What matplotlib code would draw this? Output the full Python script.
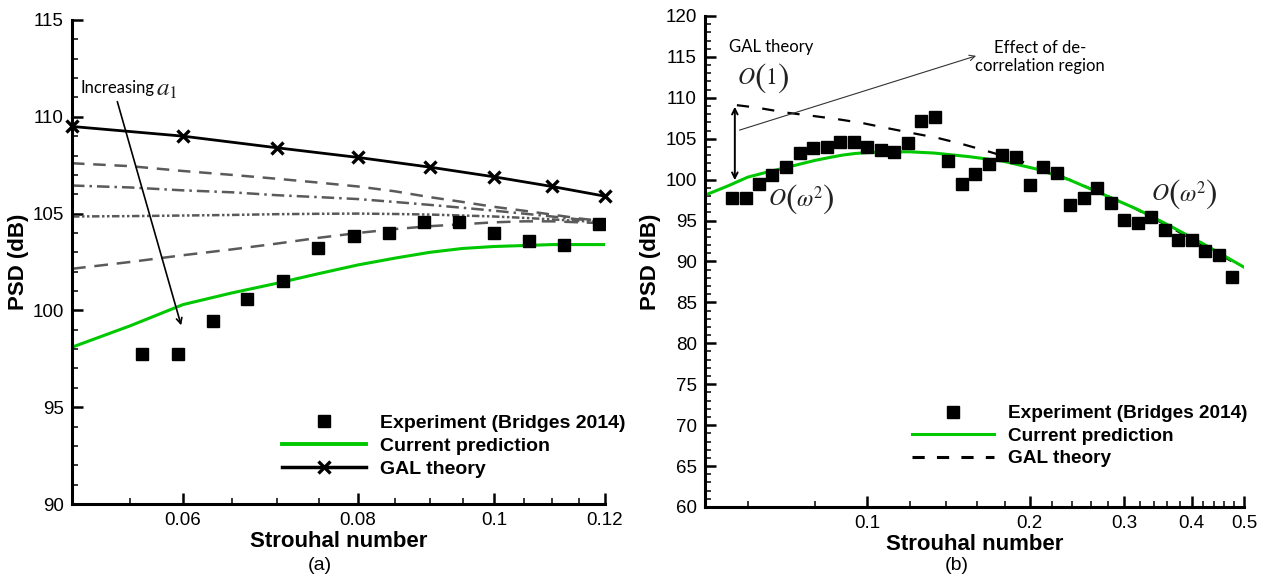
import numpy as np
import matplotlib.pyplot as plt
from matplotlib.ticker import FixedLocator, FixedFormatter, NullFormatter, MultipleLocator
from matplotlib.lines import Line2D

plt.rcParams['font.family'] = ['Liberation Sans', 'DejaVu Sans']
plt.rcParams['mathtext.fontset'] = 'stix'

# Experiment (Bridges 2014), 1/12-octave bands
st_exp = [0.0561, 0.0595, 0.0630, 0.0667, 0.0707, 0.0749, 0.0794, 0.0841, 0.0891, 0.0944,
          0.1000, 0.1059, 0.1122, 0.1189, 0.1260, 0.1335, 0.1414, 0.1498, 0.1587, 0.1682,
          0.1782, 0.1888, 0.2000, 0.2119, 0.2245, 0.2378, 0.2520, 0.2670, 0.2828, 0.2997,
          0.3175, 0.3364, 0.3564, 0.3775, 0.4000, 0.4238, 0.4490, 0.4757]
psd_exp = [97.75, 97.75, 99.45, 100.6, 101.5, 103.2, 103.85, 104.0, 104.55, 104.55,
           104.0, 103.6, 103.4, 104.45, 107.15, 107.65, 102.3, 99.45, 100.7, 101.9,
           103.0, 102.8, 99.35, 101.55, 100.8, 96.9, 97.75, 99.0, 97.15, 95.05,
           94.7, 95.45, 93.85, 92.65, 92.65, 91.3, 90.8, 88.1]

# Current prediction
st_pred = [0.050, 0.055, 0.060, 0.065, 0.070, 0.075, 0.080, 0.085, 0.090, 0.095, 0.100,
           0.105, 0.110, 0.115, 0.120, 0.133, 0.155, 0.178, 0.206, 0.2375, 0.274, 0.317,
           0.364, 0.419, 0.500]
psd_pred = [98.1, 99.2, 100.3, 100.9, 101.4, 101.9, 102.35, 102.7, 103.0, 103.2, 103.3,
            103.35, 103.4, 103.4, 103.4, 103.25, 102.8, 102.28, 101.3, 99.96, 98.2, 96.38,
            94.37, 92.2, 89.3]

# GAL theory, panel (a) with markers
st_gal_a = [0.05, 0.06, 0.07, 0.08, 0.09, 0.10, 0.11, 0.12]
psd_gal_a = [109.5, 109.0, 108.4, 107.9, 107.4, 106.9, 106.4, 105.9]

# GAL theory, panel (b)
st_gal_b = [0.0573, 0.0624, 0.0706, 0.079, 0.0879, 0.0982, 0.1088, 0.121, 0.135, 0.150,
            0.1667, 0.2063, 0.2483, 0.3072, 0.3752, 0.4967]
psd_gal_b = [109.1, 108.8, 108.2, 107.8, 107.4, 106.9, 106.3, 105.7, 105.1, 104.35,
             103.5, 101.65, 99.45, 96.8, 93.75, 89.3]

# Increasing a1 curves, panel (a)
st_a1 = [0.050, 0.055, 0.060, 0.065, 0.070, 0.075, 0.080, 0.085, 0.090, 0.095,
         0.100, 0.105, 0.110, 0.115, 0.120]
psd_a1_1 = [107.6, 107.45, 107.2, 107.0, 106.8, 106.6, 106.4, 106.15, 105.85, 105.6,
            105.35, 105.15, 104.95, 104.75, 104.6]
psd_a1_2 = [106.45, 106.35, 106.2, 106.1, 105.95, 105.85, 105.75, 105.6, 105.45, 105.3,
            105.15, 105.0, 104.85, 104.7, 104.6]
psd_a1_3 = [104.85, 104.87, 104.9, 104.93, 104.97, 104.99, 105.0, 104.98, 104.95, 104.9,
            104.85, 104.78, 104.7, 104.62, 104.55]
psd_a1_4 = [102.15, 102.5, 102.85, 103.15, 103.45, 103.75, 104.0, 104.2, 104.35, 104.45,
            104.55, 104.6, 104.6, 104.55, 104.5]

# ticks
xmajor_a = [0.06, 0.08, 0.1, 0.12]
xlabels_a = ['0.06', '0.08', '0.1', '0.12']
xminor_a = [0.055, 0.065, 0.07, 0.075, 0.085, 0.09, 0.095, 0.105, 0.11, 0.115]
xmajor_b = [0.1, 0.2, 0.3, 0.4, 0.5]
xlabels_b = ['0.1', '0.2', '0.3', '0.4', '0.5']
xminor_b = [0.06, 0.08, 0.12, 0.14, 0.16, 0.18, 0.22, 0.24, 0.26, 0.28,
            0.32, 0.34, 0.36, 0.38, 0.42, 0.44, 0.46, 0.48]

legend_labels = ['Experiment (Bridges 2014)', 'Current prediction', 'GAL theory']

GREEN = '#00c800'
GREY = '#5a5a5a'
EQ_COLOR = '#222222'
ANNOT_FONT = 'Lato'


def style_axes(ax, xlim, xmajor, xlabels, xminor, ylim, ylabelpad):
    ax.set_xscale('log')
    ax.set_xlim(*xlim)
    ax.set_ylim(*ylim)
    ax.xaxis.set_major_locator(FixedLocator(xmajor))
    ax.xaxis.set_major_formatter(FixedFormatter(xlabels))
    ax.xaxis.set_minor_locator(FixedLocator(xminor))
    ax.xaxis.set_minor_formatter(NullFormatter())
    ax.yaxis.set_major_locator(MultipleLocator(5))
    ax.yaxis.set_minor_locator(MultipleLocator(1))
    for side in ['top', 'right']:
        ax.spines[side].set_visible(False)
    for side in ['left', 'bottom']:
        ax.spines[side].set_linewidth(2.2)
    ax.tick_params(which='major', direction='in', length=8, width=1.8,
                   labelsize=13.5, pad=6)
    ax.tick_params(which='minor', direction='in', length=4.5, width=1.1)
    ax.set_xlabel('Strouhal number', fontsize=16, fontweight='bold', labelpad=1)
    ax.set_ylabel('PSD (dB)', fontsize=16, fontweight='bold', labelpad=ylabelpad)


def order_label(ax, x, y, inner, inner_width):
    """O(...) with tall Times-style brackets, built from pieces (offsets in points)."""
    kw = dict(xycoords='data', textcoords='offset points', va='center', color=EQ_COLOR)
    ax.annotate(r'$O$', (x, y), xytext=(0, 0), fontsize=17, ha='left', **kw)
    ax.annotate(r'$($', (x, y), xytext=(12, 0), fontsize=25, ha='left', **kw)
    ax.annotate(inner, (x, y), xytext=(20, 0), fontsize=17, ha='left', **kw)
    ax.annotate(r'$)$', (x, y), xytext=(21 + inner_width, 0), fontsize=25, ha='left', **kw)


def make_legend(ax, handles, anchor, size):
    ax.legend(handles, legend_labels, loc='upper left', bbox_to_anchor=anchor,
              frameon=False, borderpad=0, borderaxespad=0, handlelength=4.3,
              handletextpad=0.75, labelspacing=0.28, numpoints=1,
              prop={'weight': 'bold', 'size': size})


fig = plt.figure(figsize=(12.65, 5.79), dpi=100)
ax1 = fig.add_axes([0.0569, 0.1295, 0.4213, 0.836])
ax2 = fig.add_axes([0.5573, 0.1244, 0.4261, 0.848])

# ---- panel (a)
style_axes(ax1, (0.05, 0.12), xmajor_a, xlabels_a, xminor_a, (90, 115), 2)

ax1.plot(st_a1, psd_a1_1, color=GREY, lw=1.8, dashes=(5, 3.5))
ax1.plot(st_a1, psd_a1_2, color=GREY, lw=1.8, dashes=(5, 2, 1, 2))
ax1.plot(st_a1, psd_a1_3, color=GREY, lw=1.8, dashes=(3, 1, 1, 1, 1, 1))
ax1.plot(st_a1, psd_a1_4, color=GREY, lw=1.8, dashes=(5.5, 3.5))
ax1.plot(st_pred, psd_pred, color=GREEN, lw=2.2)
ax1.plot(st_gal_a, psd_gal_a, color='black', lw=2.0, marker='x', ms=8, mew=2.4,
         clip_on=False, zorder=4)
ax1.plot(st_exp, psd_exp, ls='none', marker='s', ms=8.5, color='black', zorder=5)

ax1.annotate('', xy=(0.0599, 99.09), xytext=(0.0538, 110.92),
             arrowprops=dict(arrowstyle='->', color='black', lw=1.2))
ax1.text(0.0507, 111.5, 'Increasing', fontsize=12, family=ANNOT_FONT,
         va='center', ha='left')
ax1.text(0.0574, 111.45, r'$a_1$', fontsize=18, va='center', ha='left', color=EQ_COLOR)

handles_a = [
    Line2D([], [], ls='none', marker='s', ms=8.5, color='black'),
    Line2D([], [], color=GREEN, lw=2.8),
    Line2D([], [], color='black', lw=2.5, marker='x', ms=8, mew=2.4),
]
make_legend(ax1, handles_a, (0.394, 0.186), 14)

# ---- panel (b)
style_axes(ax2, (0.05, 0.5), xmajor_b, xlabels_b, xminor_b, (60, 120), 3)

ax2.plot(st_gal_b, psd_gal_b, color='black', lw=1.6, dashes=(5.5, 6))
ax2.plot(st_pred, psd_pred, color=GREEN, lw=2.2)
ax2.plot(st_exp, psd_exp, ls='none', marker='s', ms=8.5, color='black', zorder=5)

ax2.annotate('', xy=(0.0568, 99.6), xytext=(0.0568, 109.25),
             arrowprops=dict(arrowstyle='<->', color='black', lw=1.4))
ax2.annotate('', xy=(0.161, 115.23), xytext=(0.0573, 105.95),
             arrowprops=dict(arrowstyle='->', color='#333333', lw=0.8))
ax2.text(0.0555, 116.2, 'GAL theory', fontsize=12, family=ANNOT_FONT, va='center')
order_label(ax2, 0.0573, 112.4, r'$1$', 8)
order_label(ax2, 0.0655, 97.6, r'$\omega^2$', 18)
order_label(ax2, 0.336, 98.2, r'$\omega^2$', 18)
ax2.text(0.2093, 115.0, 'Effect of de-\ncorrelation region', fontsize=12,
         family=ANNOT_FONT, ha='center', va='center', linespacing=1.2)

handles_b = [
    Line2D([], [], ls='none', marker='s', ms=8.5, color='black'),
    Line2D([], [], color=GREEN, lw=2.2),
    Line2D([], [], color='black', lw=2.2, dashes=(4, 4)),
]
make_legend(ax2, handles_b, (0.384, 0.208), 13.7)

fig.text(320 / 1265, 1 - 565 / 579, '(a)', fontsize=14, ha='center', va='center')
fig.text(957 / 1265, 1 - 565 / 579, '(b)', fontsize=14, ha='center', va='center')

fig.savefig('out.png', dpi=100)
